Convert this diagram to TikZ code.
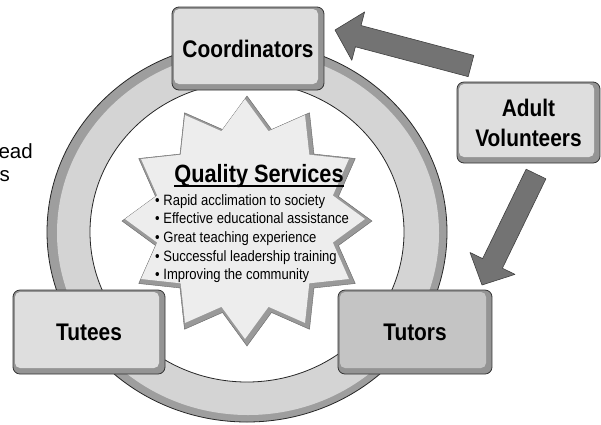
\documentclass[tikz,border=0pt]{standalone}
\usepackage{fontspec}
\setmainfont{Liberation Sans}
\newfontfamily\narrowfont{Liberation Sans}[FakeStretch=0.87]
\usetikzlibrary{calc,shapes.geometric}

\tikzset{
  card/.style={draw=black!80, line width=0.8pt, rounded corners=7pt, inner sep=0pt, align=center,
    font=\narrowfont\bfseries\fontsize{24}{30}\selectfont,
    path picture={
      \fill[black!42] (path picture bounding box.south west) rectangle (path picture bounding box.north east);
      \fill[#1, rounded corners=5pt] ([shift={(2pt,-2pt)}]path picture bounding box.north west)
        rectangle ([shift={(-6pt,6pt)}]path picture bounding box.south east);
    }},
  card/.default=black!13,
  blockarrow/.style={fill=black!55, draw=black!75, line width=0.6pt, line join=round},
  item/.style={font=\narrowfont\fontsize{15}{18}\selectfont, inner sep=0pt, anchor=base west},
}

% fat arrow from #1 (tail) to #2 (tip)
\newcommand\bigarrow[2]{%
  \coordinate (head) at ($(#2)!24pt!(#1)$);
  \draw[blockarrow] ($(#1)!11pt!90:(#2)$) -- ($(head)!11pt!90:(#2)$) -- ($(head)!25pt!90:(#2)$)
    -- (#2) -- ($(head)!25pt!-90:(#2)$) -- ($(head)!11pt!-90:(#2)$) -- ($(#1)!11pt!-90:(#2)$) -- cycle;}

\begin{document}
\begin{tikzpicture}[x=1pt,y=-1pt]
\useasboundingbox (0,0) rectangle (601,424);

% cycle ring
\fill[black!38] (247,232) ellipse [x radius=200pt, y radius=190pt];
\fill[black!17] (248,233) ellipse [x radius=191pt, y radius=182pt];
\draw[black!85, line width=0.8pt] (247,232) ellipse [x radius=200pt, y radius=190pt];
\fill[white] (247,232) ellipse [x radius=157pt, y radius=150pt];
\draw[black!85, line width=0.8pt] (247,232) ellipse [x radius=157pt, y radius=150pt];

% star in the middle
\node[star, star points=12, star point ratio=1.32, minimum size=250pt, inner sep=0pt,
  fill=black!40, draw=black!60] (burst) at (247,221) {};
\node[star, star points=12, star point ratio=1.32, minimum size=240pt, inner sep=0pt,
  fill=black!7] (burstface) at (245,219) {};

\node[font=\narrowfont\bfseries\fontsize{25}{30}\selectfont, inner sep=0pt, anchor=base] (title) at (259,182) {Quality Services};
\draw[line width=1.4pt] ([yshift=-4pt]title.base west) -- ([yshift=-4pt]title.base east);

\foreach \txt [count=\i] in {Rapid acclimation to society, Effective educational assistance,
  Great teaching experience, Successful leadership training, Improving the community}
  \node[item] (item\i) at (155,186.3+18.7*\i) {\textbullet\ \txt};

% boxes
\node[card, minimum width=152pt, minimum height=83pt] (coord) at (248,48.5) {Coordinators};
\node[card, minimum width=143pt, minimum height=81pt] (adult) at (528.5,122.5) {Adult\\Volunteers};
\node[card=black!23, minimum width=154pt, minimum height=84pt] (tutors) at (415,332) {Tutors};
\node[card, minimum width=152pt, minimum height=84pt] (tutees) at (89,332) {Tutees};

% arrows
\coordinate (adultOut1) at (471,66);
\coordinate (coordIn) at (335,30);
\coordinate (adultOut2) at (536,174);
\coordinate (tutorsIn) at (482,285);
\bigarrow{adultOut1}{coordIn}
\bigarrow{adultOut2}{tutorsIn}

% cut text at the left
\node[anchor=base east, inner sep=0pt, font=\fontsize{20.5}{24}\selectfont] (side1) at (33,158) {ead};
\node[anchor=base east, inner sep=0pt, font=\fontsize{20.5}{24}\selectfont] (side2) at (10,181) {s};

\end{tikzpicture}
\end{document}
